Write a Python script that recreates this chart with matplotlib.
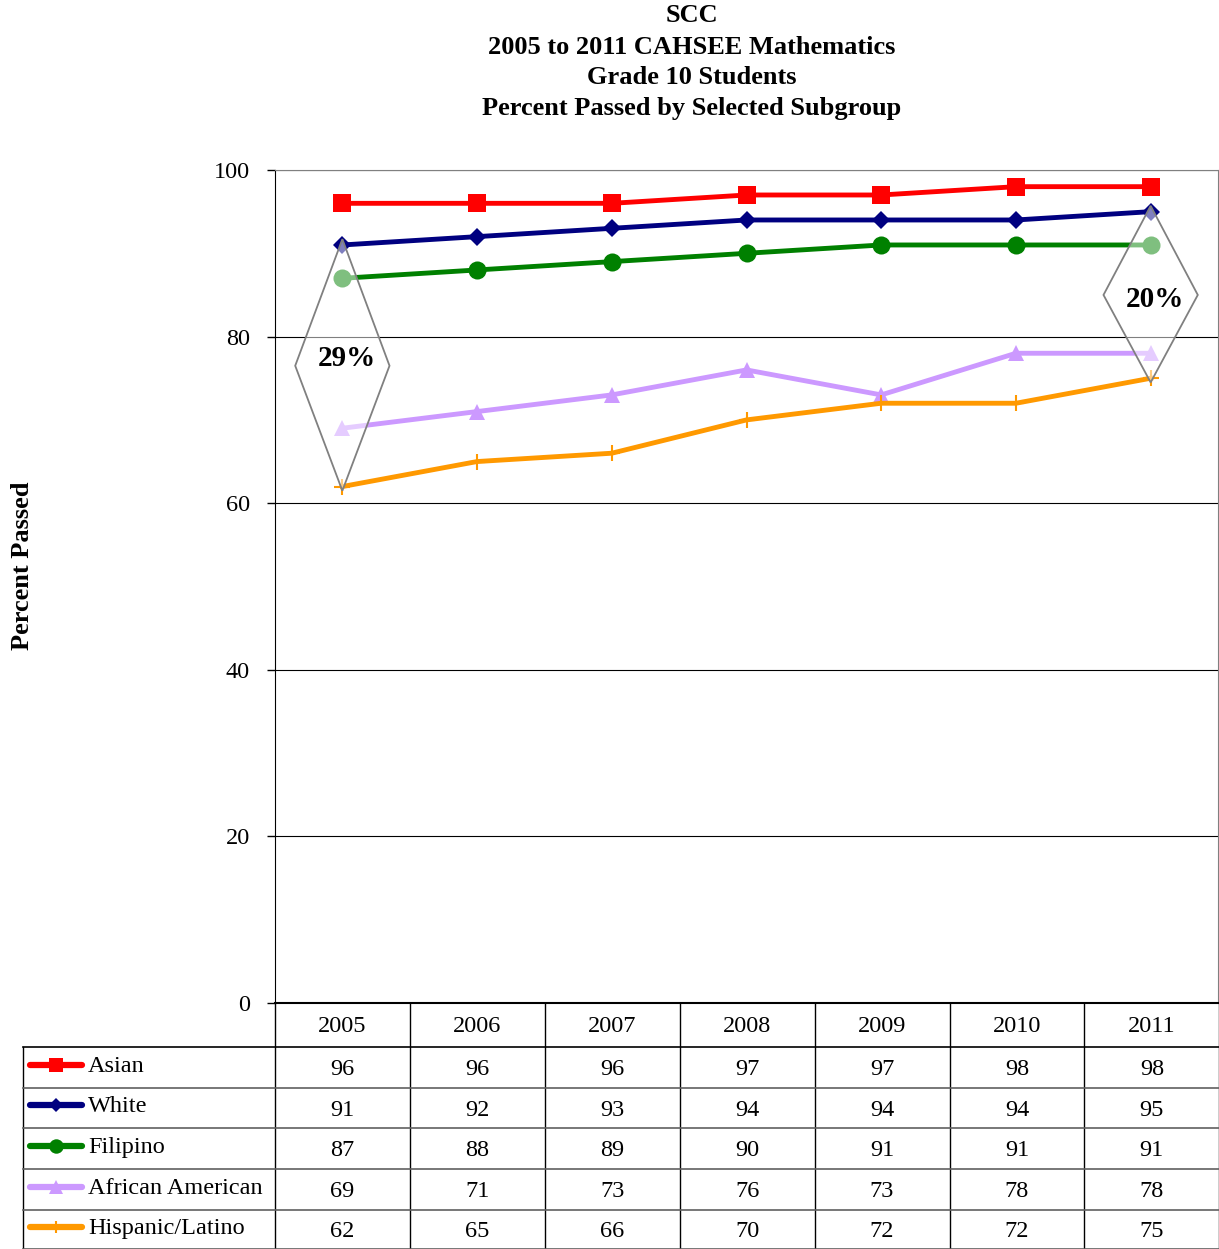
import matplotlib
matplotlib.use("Agg")
import matplotlib.pyplot as plt
from matplotlib.patches import Polygon
from matplotlib.lines import Line2D

plt.rcParams['font.family'] = ['Liberation Serif', 'DejaVu Serif']

# data
years = ["2005", "2006", "2007", "2008", "2009", "2010", "2011"]
groups = ["Asian", "White", "Filipino", "African American", "Hispanic/Latino"]
asian = [96, 96, 96, 97, 97, 98, 98]
white = [91, 92, 93, 94, 94, 94, 95]
filipino = [87, 88, 89, 90, 91, 91, 91]
african_american = [69, 71, 73, 76, 73, 78, 78]
hispanic = [62, 65, 66, 70, 72, 72, 75]
gaps = ["29%", "20%"]
title_lines = ["SCC", "2005 to 2011 CAHSEE Mathematics", "Grade 10 Students",
               "Percent Passed by Selected Subgroup"]

series = [asian, white, filipino, african_american, hispanic]
colors = ["#FF0000", "#000080", "#008000", "#CC99FF", "#FF9900"]
markers = ["s", "D", "o", "^", "+"]
msizes = [13, 9, 13, 12, 11]

W, H = 1219, 1249
FS = 17.5
fig = plt.figure(figsize=(W / 100, H / 100), dpi=100)
ax = fig.add_axes([275 / W, 1 - 1003 / H, (1218 - 275) / W, (1003 - 170) / H])

x = list(range(len(years)))
for vals, c, m, ms in zip(series, colors, markers, msizes):
    ax.plot(x, vals, color=c, lw=3.5, marker=m, markersize=ms,
            markeredgewidth=1.5 if m == "+" else 0, zorder=3)

ax.set_xlim(-0.5, len(years) - 0.5)
ax.set_ylim(0, 100)
ax.set_yticks([0, 20, 40, 60, 80, 100])
ax.set_xticks([])
ax.tick_params(axis='y', labelsize=FS, length=6, width=1, pad=12)
ax.grid(axis='y', color='black', lw=0.8)
ax.set_axisbelow(True)
for s in ['top', 'right']:
    ax.spines[s].set_color('#808080')
ax.spines['bottom'].set_linewidth(1.5)
ax.set_ylabel("Percent Passed", fontsize=19, fontweight='bold', labelpad=0)
ax.yaxis.set_label_coords(-0.256, 0.525)

# gap diamonds, first and last year
text_shift = [0.9, -0.5]
for i, txt, dy in zip([0, len(years) - 1], gaps, text_shift):
    top, bot = white[i], hispanic[i]
    mid = (top + bot) / 2
    pts = [(i, top + 0.7), (i + 0.35, mid), (i, bot - 0.5), (i - 0.35, mid)]
    ax.add_patch(Polygon(pts, closed=True, facecolor='white', alpha=0.5, edgecolor='none',
                         zorder=4, clip_on=False))
    ax.add_patch(Polygon(pts, closed=True, fill=False, edgecolor='#808080', lw=1.3,
                         zorder=5, clip_on=False))
    ax.text(i + 0.03, mid + dy, txt, ha='center', va='center', fontsize=21,
            fontweight='bold', zorder=6)

for k, line in enumerate(title_lines):
    fig.text(692 / W, 1 - (16 + 31 * k) / H, line, ha='center', va='center',
             fontsize=19, fontweight='bold')

# data table under the plot
tax = fig.add_axes([0, 0, 1, 1], facecolor='none')
tax.set_xlim(0, W)
tax.set_ylim(H, 0)
tax.axis('off')

col_x = [275 + k * 134.9 for k in range(len(years) + 1)]
row_y = [1003, 1047, 1088, 1128, 1169, 1210, 1249]
for xv in col_x:
    tax.plot([xv, xv], [1003, H], color='black', lw=1)
tax.plot([23, 23], [1047, H], color='black', lw=1)
for k, yv in enumerate(row_y[1:]):
    tax.plot([23, W], [yv, yv], color='black' if k == 0 else '#606060', lw=1.2)

for k, yr in enumerate(years):
    tax.text((col_x[k] + col_x[k + 1]) / 2, 1027, yr, ha='center', va='center', fontsize=FS)

for r, (name, vals, c, m, ms) in enumerate(zip(groups, series, colors, markers, msizes)):
    yc = (row_y[r + 1] + row_y[r + 2]) / 2
    tax.add_line(Line2D([30, 82], [yc - 3, yc - 3], color=c, lw=4.5, solid_capstyle='round'))
    tax.add_line(Line2D([56], [yc - 3], color=c, marker=m, markersize=ms * 0.8,
                        markeredgewidth=1.5 if m == "+" else 0))
    tax.text(88, yc - 1, name, ha='left', va='center', fontsize=FS)
    for k, v in enumerate(vals):
        tax.text((col_x[k] + col_x[k + 1]) / 2, yc + 2, str(v), ha='center', va='center', fontsize=FS)

fig.savefig("out.png", dpi=100)
